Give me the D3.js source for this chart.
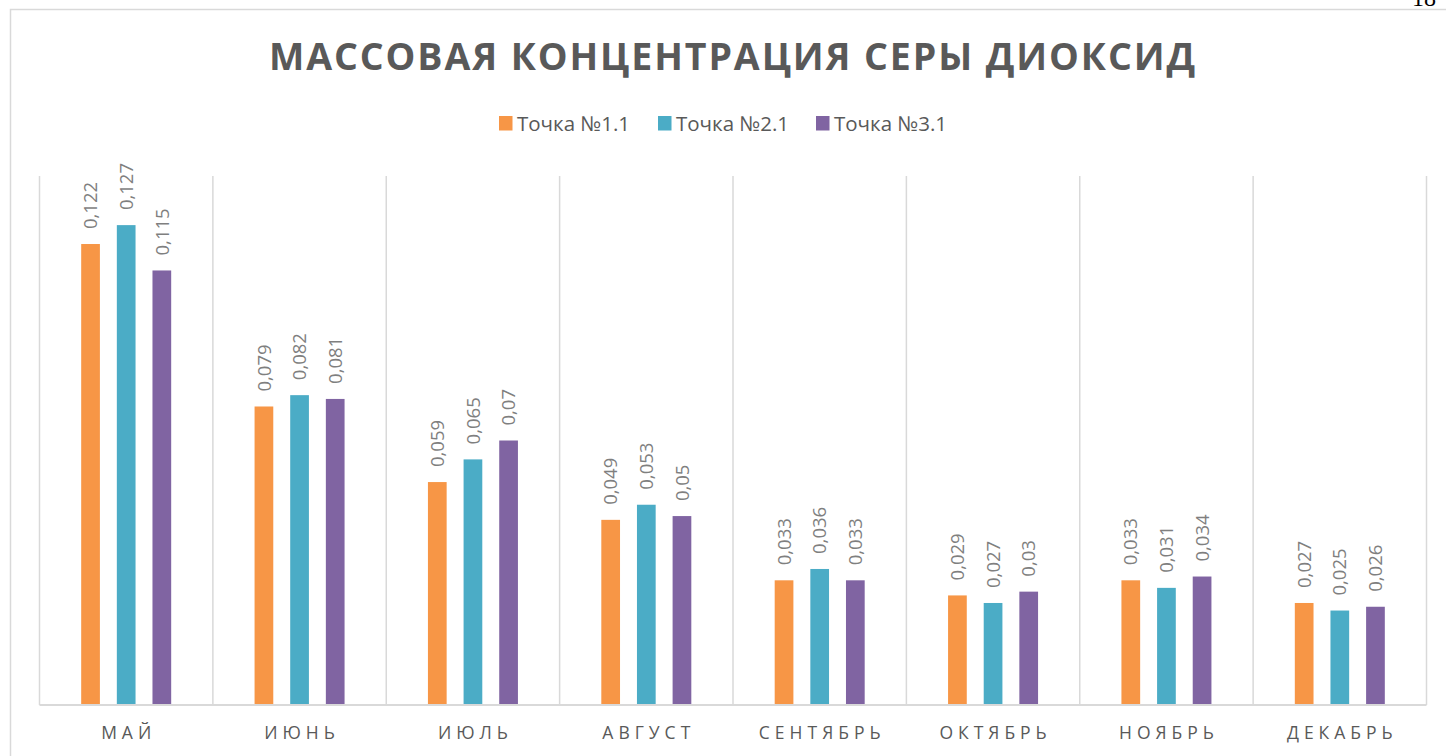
<!DOCTYPE html>
<html>
<head>
<meta charset="utf-8">
<script src="https://cdn.jsdelivr.net/npm/d3@7"></script>
<style>
  html, body { margin: 0; padding: 0; background: #fff; }
  svg { display: block; }
</style>
</head>
<body>
<svg id="chart" width="1446" height="756"></svg>
<script>
// Monthly mass concentration of sulphur dioxide at three sampling points
const months = ["МАЙ", "ИЮНЬ", "ИЮЛЬ", "АВГУСТ", "СЕНТЯБРЬ", "ОКТЯБРЬ", "НОЯБРЬ", "ДЕКАБРЬ"];
const seriesNames = ["Точка №1.1", "Точка №2.1", "Точка №3.1"];
const point1 = [0.122, 0.079, 0.059, 0.049, 0.033, 0.029, 0.033, 0.027];
const point2 = [0.127, 0.082, 0.065, 0.053, 0.036, 0.027, 0.031, 0.025];
const point3 = [0.115, 0.081, 0.070, 0.050, 0.033, 0.030, 0.034, 0.026];
const seriesColors = ["#F79646", "#4BACC6", "#8064A2"];
const title = "МАССОВАЯ КОНЦЕНТРАЦИЯ СЕРЫ ДИОКСИД";
const yMax = 0.14;

const seriesValues = [point1, point2, point3];
const svg = d3.select("#chart");
const font = "'Open Sans', 'Noto Sans', sans-serif";

// Page number from the surrounding document
svg.append("text")
  .attr("x", 1436).attr("y", 6)
  .attr("text-anchor", "end")
  .attr("font-family", "'Liberation Serif', serif")
  .attr("font-size", 24)
  .attr("fill", "#000")
  .text("18");

// Chart frame
svg.append("path")
  .attr("d", "M10.5,756 V9.5 H1446")
  .attr("fill", "none")
  .attr("stroke", "#d9d9d9")
  .attr("stroke-width", 1.5);

const plot = { left: 39.5, right: 1426.5, top: 176, bottom: 705 };

const x0 = d3.scaleBand()
  .domain(months)
  .range([plot.left, plot.right])
  .paddingInner(0)
  .paddingOuter(0);

// Bars sit 18.7px wide with gaps about 0.9 of a bar between them
const groupWidth = 90;
const x1 = d3.scaleBand()
  .domain(d3.range(seriesNames.length))
  .range([0, groupWidth])
  .paddingInner(0.475)
  .paddingOuter(0);

const y = d3.scaleLinear().domain([0, yMax]).range([plot.bottom, plot.top]);

// Vertical category separators
const edges = months.map(m => x0(m)).concat([plot.right]);
svg.append("g").selectAll("line")
  .data(edges)
  .join("line")
  .attr("x1", d => d).attr("x2", d => d)
  .attr("y1", plot.top).attr("y2", plot.bottom)
  .attr("stroke", "#d9d9d9")
  .attr("stroke-width", 1.5);

// Bars
const groups = svg.append("g").selectAll("g")
  .data(months)
  .join("g")
  .attr("transform", m => `translate(${x0(m) + (x0.bandwidth() - groupWidth) / 2},0)`);

const fmt = v => String(+v.toFixed(3)).replace(".", ",");

groups.each(function(m, i) {
  const g = d3.select(this);
  const items = seriesValues.map((vals, s) => ({ s, v: vals[i] }));
  g.selectAll("rect")
    .data(items)
    .join("rect")
    .attr("x", d => x1(d.s))
    .attr("y", d => y(d.v))
    .attr("width", x1.bandwidth())
    .attr("height", d => plot.bottom - y(d.v))
    .attr("fill", d => seriesColors[d.s]);

  g.selectAll("text")
    .data(items)
    .join("text")
    .attr("transform", d => `translate(${x1(d.s) + x1.bandwidth() / 2},${y(d.v) - 15}) rotate(-90)`)
    .attr("dy", "0.36em")
    .attr("text-anchor", "start")
    .attr("font-family", font)
    .attr("font-size", 18.5)
    .attr("fill", "#7f7f7f")
    .text(d => fmt(d.v));
});

// Baseline
svg.append("line")
  .attr("x1", plot.left).attr("x2", plot.right)
  .attr("y1", plot.bottom).attr("y2", plot.bottom)
  .attr("stroke", "#d9d9d9")
  .attr("stroke-width", 2);

// Category labels
const ls = 5;
svg.append("g").selectAll("text")
  .data(months)
  .join("text")
  .attr("x", m => x0(m) + x0.bandwidth() / 2 + ls / 2)
  .attr("y", 739)
  .attr("text-anchor", "middle")
  .attr("font-family", font)
  .attr("font-size", 17.5)
  .attr("letter-spacing", ls)
  .attr("fill", "#595959")
  .text(m => m);

// Title
svg.append("text")
  .attr("x", 732 + 1)
  .attr("y", 70)
  .attr("text-anchor", "middle")
  .attr("font-family", font)
  .attr("font-weight", 700)
  .attr("font-size", 37.5)
  .attr("letter-spacing", 1.9)
  .attr("fill", "#595959")
  .text(title);

// Legend
const legendX = [499, 658, 816];
const legend = svg.append("g").selectAll("g")
  .data(seriesNames)
  .join("g")
  .attr("transform", (d, i) => `translate(${legendX[i]},116)`);
legend.append("rect")
  .attr("width", 13.5).attr("height", 14.5)
  .attr("fill", (d, i) => seriesColors[i]);
legend.append("text")
  .attr("x", 18).attr("y", 15)
  .attr("font-family", font)
  .attr("font-size", 20.5)
  .attr("fill", "#595959")
  .text(d => d);
</script>
</body>
</html>
